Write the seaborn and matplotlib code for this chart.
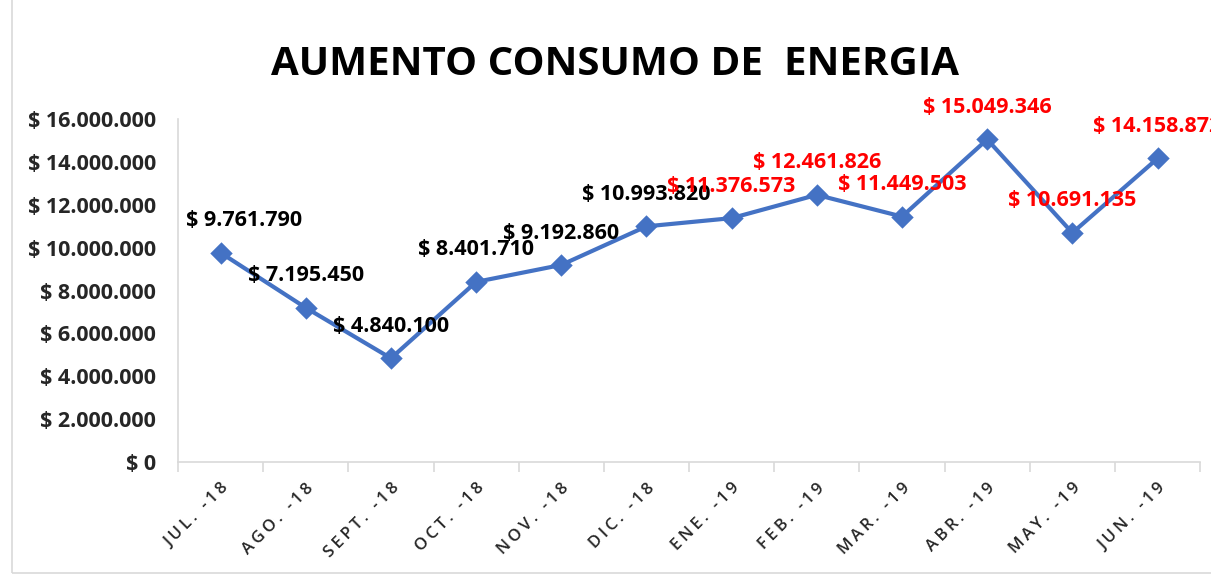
import matplotlib
matplotlib.use("Agg")
import matplotlib.pyplot as plt
import matplotlib.ticker as mticker
import seaborn as sns
import pandas as pd

# === datos ===
meses = ["JUL.-18", "AGO.-18", "SEPT.-18", "OCT.-18", "NOV.-18", "DIC.-18",
         "ENE.-19", "FEB.-19", "MAR.-19", "ABR.-19", "MAY.-19", "JUN.-19"]
consumo = [9761790, 7195450, 4840100, 8401710, 9192860, 10993820,
           11376573, 12461826, 11449503, 15049346, 10691135, 14158872]
color_etiqueta = ["black"] * 6 + ["#FF0000"] * 6

df = pd.DataFrame({"mes": meses, "valor": consumo})

sns.set_theme(style="white")
plt.rcParams["font.family"] = ["Open Sans", "DejaVu Sans"]

fig = plt.figure(figsize=(12.11, 5.75), dpi=100)
ax = fig.add_axes([0.147, 0.1965, 0.844, 0.5965])

sns.pointplot(data=df, x="mes", y="valor", color="#4472C4", markers="D",
              markersize=9, linewidth=3, ax=ax)

def pesos(v, pos):
    return "$ " + f"{int(v):,}".replace(",", ".")

ax.set_ylim(0, 16000000)
ax.set_xlim(-0.5, len(meses) - 0.5)
ax.yaxis.set_major_locator(mticker.MultipleLocator(2000000))
ax.yaxis.set_major_formatter(mticker.FuncFormatter(pesos))
ax.set_xlabel("")
ax.set_ylabel("")

for lab in ax.get_yticklabels():
    lab.set_fontweight("bold")
    lab.set_fontsize(15.5)
ax.tick_params(axis="y", length=0, pad=16)
ax.tick_params(axis="x", which="major", length=0, pad=13)
ax.set_xticks(ax.get_xticks())
# espaciado de letras como en Excel
meses_esp = ["\u2009".join(m.replace(".-", ". -")) for m in meses]
ax.set_xticklabels(meses_esp, rotation=45, ha="right", rotation_mode="anchor",
                   fontsize=12, fontweight="semibold")
ax.xaxis.set_minor_locator(mticker.FixedLocator([i - 0.5 for i in range(len(meses) + 1)]))
ax.tick_params(axis="x", which="minor", length=7, color="#D9D9D9", width=1.2, bottom=True)

for s in ["top", "right"]:
    ax.spines[s].set_visible(False)
for s in ["left", "bottom"]:
    ax.spines[s].set_color("#D9D9D9")
    ax.spines[s].set_linewidth(1.2)

for i, (v, c) in enumerate(zip(consumo, color_etiqueta)):
    dx = 17 if i == 0 else 0
    ax.annotate(pesos(v, None), (i, v), xytext=(dx, 23), textcoords="offset points",
                ha="center", va="center", fontsize=15.5, fontweight="bold",
                color=c, annotation_clip=False)

fig.text(0.508, 0.888, "AUMENTO CONSUMO DE  ENERGIA", ha="center",
         va="center", fontsize=29, fontweight="bold", color="black")

fig.patches.append(plt.Rectangle((0.01, 0.003), 1.2, 1.1, transform=fig.transFigure,
                                 fill=False, edgecolor="#D9D9D9", linewidth=1.2))

fig.savefig("out.png", dpi=100)
